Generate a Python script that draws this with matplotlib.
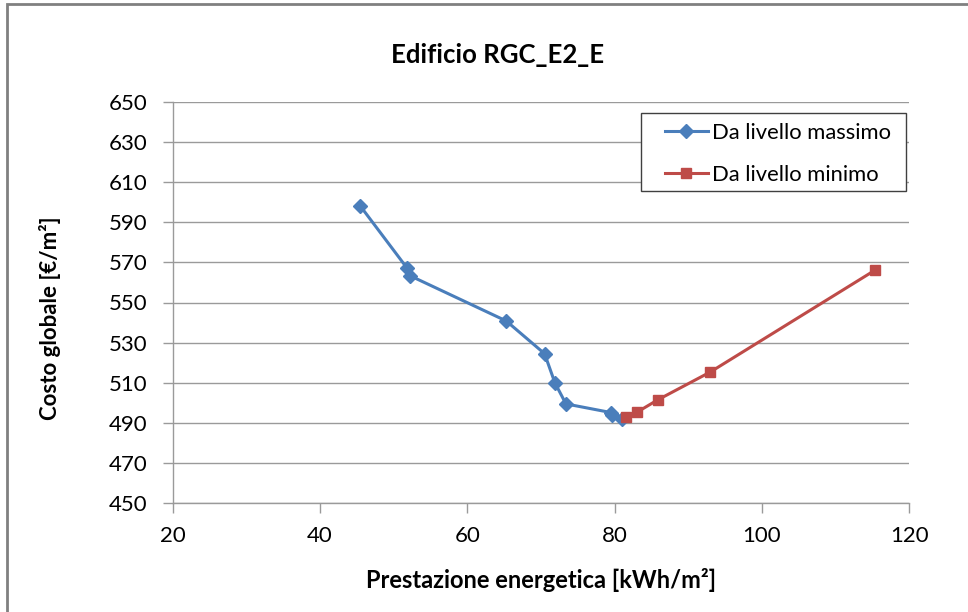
import matplotlib
matplotlib.use("Agg")
import matplotlib.pyplot as plt
from matplotlib.patches import Rectangle

plt.rcParams['font.family'] = ['Lato', 'DejaVu Sans']

# Series: energy performance (kWh/m²) vs global cost (€/m²)
max_x = [45.5, 51.8, 52.2, 65.3, 70.5, 71.9, 73.4, 79.5, 79.7, 81.0]
max_y = [598.0, 567.3, 563.4, 540.8, 524.5, 510.0, 499.5, 495.2, 493.8, 492.0]
min_x = [81.6, 83.1, 85.9, 93.0, 115.3]
min_y = [493.2, 495.5, 501.6, 515.4, 566.0]

labels = ["Da livello massimo", "Da livello minimo"]
title = "Edificio RGC_E2_E"
xlabel = "Prestazione energetica [kWh/m²]"
ylabel = "Costo globale [€/m²]"
xticks = [20, 40, 60, 80, 100, 120]
yticks = list(range(450, 651, 20))

blue = "#4A7EBB"
red = "#BE4B48"
gray = "#9a9a9a"

W, H = 968, 612
fig = plt.figure(figsize=(W / 100, H / 100), dpi=100)
ax = fig.add_axes([172.5 / W, 1 - 503.3 / H, (909.3 - 172.5) / W, (503.3 - 101.7) / H])

# outer chart frame
fig.patches.append(Rectangle((7 / W, -0.05), 1.1, 1 - 4 / H + 0.05,
                             transform=fig.transFigure, fill=False,
                             edgecolor="#808080", linewidth=2))

ax.plot(max_x, max_y, color=blue, lw=2.2, marker="D", ms=7.5,
        markeredgecolor=blue, label=labels[0], zorder=3)
ax.plot(min_x, min_y, color=red, lw=2.2, marker="s", ms=7.5,
        markeredgecolor=red, label=labels[1], zorder=3)

ax.set_xlim(20, 120)
ax.set_ylim(450, 650)
ax.set_xticks(xticks)
ax.set_yticks(yticks)
ax.yaxis.grid(True, color=gray, lw=1)
ax.set_axisbelow(True)

for s in ("top", "right"):
    ax.spines[s].set_visible(False)
for s in ("left", "bottom"):
    ax.spines[s].set_color(gray)
    ax.spines[s].set_linewidth(1)

ax.tick_params(axis="both", colors=gray, labelcolor="black", labelsize=16,
               length=7, width=1, direction="out")
ax.tick_params(axis="x", pad=9)
ax.tick_params(axis="y", pad=11)

ax.set_xlabel(xlabel, fontsize=17, fontweight="bold")
ax.set_ylabel(ylabel, fontsize=16, fontweight="bold")
ax.yaxis.set_label_coords(61 / W, 1 - 318 / H, transform=fig.transFigure)
ax.xaxis.set_label_coords(0.5 * (172.5 + 909.3) / W, 1 - 568 / H,
                          transform=fig.transFigure)
fig.text(0.514, 1 - 55 / H, title, ha="center", va="center",
         fontsize=18.5, fontweight="bold")

# legend box
ax.add_patch(Rectangle((641 / W, 1 - 191 / H), 265 / W, 78 / H,
                       transform=fig.transFigure, facecolor="white",
                       edgecolor="#404040", linewidth=1, zorder=4.5,
                       clip_on=False))
leg = ax.legend(loc="upper left", bbox_to_anchor=(665 / W, 1 - 123 / H),
                bbox_transform=fig.transFigure, fontsize=15.8, frameon=False,
                borderpad=0, borderaxespad=0, labelspacing=1.0,
                handlelength=1.95, handletextpad=0.2)
leg.set_zorder(6)

fig.savefig("out.png", dpi=100)
